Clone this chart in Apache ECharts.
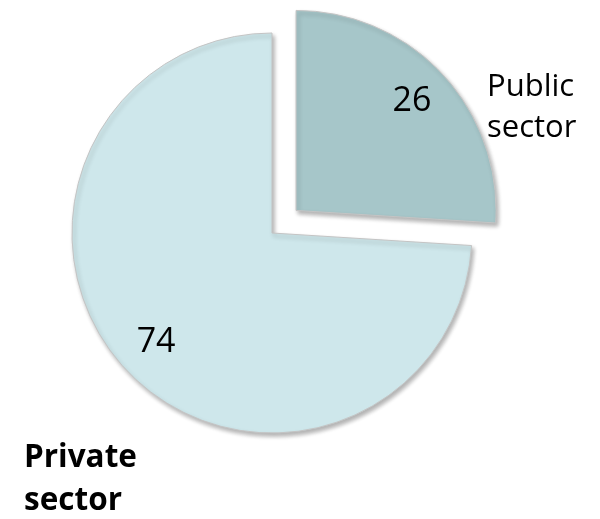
<!DOCTYPE html>
<html>
<head>
<meta charset="utf-8">
<script src="https://cdn.jsdelivr.net/npm/echarts@6/dist/echarts.min.js"></script>
<style>html,body{margin:0;padding:0;background:#fff;}#c{width:600px;height:519px;}</style>
</head>
<body>
<div id="c"></div>
<script>
const categories = ['Public sector', 'Private sector'];
const values = [26, 74];
const nameLines = [['Public', 'sector'], ['Private', 'sector']];

const colors = ['#a6c6c9', '#cee7eb'];
const FONT = '"Open Sans", sans-serif';
const chart = echarts.init(document.getElementById('c'), null, {renderer: 'canvas'});

const pieData = categories.map((c, i) => ({
  name: c, value: values[i], selected: i === 0,
  itemStyle: {color: colors[i]}
}));
const labelData = categories.map((c, i) => ({
  name: c, value: values[i], selected: i === 0
}));

chart.setOption({
  animation: false,
  series: [
    {
      type: 'pie', center: [272, 233], radius: 200, startAngle: 90, clockwise: true,
      selectedMode: 'single', selectedOffset: 33, silent: true,
      itemStyle: {borderColor: '#c4c4c4', borderWidth: 1, shadowBlur: 4, shadowOffsetX: 2, shadowOffsetY: 3, shadowColor: 'rgba(0,0,0,0.3)'},
      label: {show: false}, labelLine: {show: false},
      emphasis: {disabled: true}, select: {disabled: false, itemStyle: {color: colors[0]}},
      data: pieData
    },
    {
      type: 'pie', center: [272, 233], radius: 312, startAngle: 90, clockwise: true,
      selectedMode: 'single', selectedOffset: 33, silent: true, z: 3,
      itemStyle: {color: 'rgba(0,0,0,0)', borderWidth: 0},
      label: {show: true, position: 'inside', formatter: '{c}', fontFamily: FONT, fontSize: 34, color: '#000'},
      labelLine: {show: false}, emphasis: {disabled: true},
      data: labelData
    }
  ],
  graphic: [
    {
      type: 'text', left: 487, top: 67,
      style: {text: nameLines[0].join('\n'), font: '31px ' + FONT, lineHeight: 41, fill: '#000'}
    },
    {
      type: 'text', left: 24, top: 437,
      style: {text: nameLines[1].join('\n'), font: 'bold 31.5px ' + FONT, lineHeight: 43, fill: '#000'}
    }
  ]
});
</script>
</body>
</html>
